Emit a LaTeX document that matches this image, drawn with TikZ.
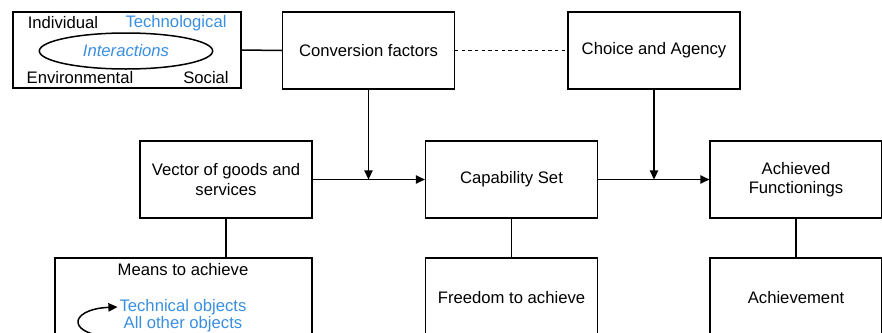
\documentclass[tikz,border=0pt]{standalone}
\usepackage{fontspec}
\setmainfont{Liberation Sans}
\usetikzlibrary{arrows.meta,shapes.geometric}
\definecolor{CapBlue}{HTML}{3A8EE0}

\begin{document}
\begin{tikzpicture}[
    x=0.6pt, y=-0.6pt,
    box/.style={draw, line width=0.9pt, minimum width=103pt, minimum height=46pt, align=center, font=\fontsize{10}{11.5}\selectfont},
    lowbox/.style={box, minimum height=48pt},
    word/.style={inner sep=0pt, font=\fontsize{10}{11.5}\selectfont},
    link/.style={line width=0.9pt},
    >={Triangle[length=5.5pt, width=5pt]}
]
    \clip (0,0) rectangle (882,332);

    % Factors frame with its four kinds
    \node[box, minimum width=137pt, minimum height=45.6pt] (frame) at (127,50) {};
    \node[word] (indiv) at (63,23) {Individual};
    \node[word, text=CapBlue] (techno) at (176,23) {Technological};
    \node[word] (enviro) at (80,78) {Environmental};
    \node[word] (social) at (206,78) {Social};
    \node[draw, line width=0.9pt, ellipse, minimum width=104pt, minimum height=21.6pt, inner sep=0pt,
          font=\fontsize{10}{11.5}\selectfont\itshape, text=CapBlue] (interact) at (126,51) {Interactions};

    % Top row
    \node[box] (conv) at (368.5,50.5) {Conversion factors};
    \node[box] (choice) at (654,50.5) {Choice and Agency};

    % Middle row
    \node[box] (goods) at (226,179.5) {Vector of goods and\\services};
    \node[box] (capset) at (511.5,179.5) {Capability Set};
    \node[box] (achfun) at (796,179.5) {Achieved\\Functionings};

    % Bottom row
    \node[lowbox, minimum width=154pt] (means) at (183.5,298) {};
    \node[word] (meanslbl) at (183,270) {Means to achieve};
    \node[word, text=CapBlue] (tech) at (183,307) {Technical objects};
    \node[word, text=CapBlue] (other) at (183,324) {All other objects};
    \node[lowbox] (freedom) at (511.5,298) {Freedom to achieve};
    \node[lowbox] (achieve) at (796,298) {Achievement};

    % Joins on the main line
    \coordinate (join1) at (conv.south |- goods.east);
    \coordinate (join2) at (choice.south |- capset.east);

    % Connectors
    \draw[link] (frame.east) -- (conv.west);
    \draw[link, dash pattern=on 2pt off 2pt] (conv.east) -- (choice.west);
    \draw[link, ->] (conv.south) -- (join1);
    \draw[link, ->] (choice.south) -- (join2);
    \draw[link, ->] (goods.east) -- (capset.west);
    \draw[link, ->] (capset.east) -- (achfun.west);
    \draw[link] (goods.south) -- (goods.south |- means.north);
    \draw[link] (capset.south) -- (freedom.north);
    \draw[link] (achfun.south) -- (achieve.north);

    % Loop between the objects
    \draw[link, ->] ([xshift=-1pt, yshift=-8pt]other.west) .. controls +(-58,0) and +(-50,2) .. ([xshift=-1pt]tech.west);
\end{tikzpicture}
\end{document}
